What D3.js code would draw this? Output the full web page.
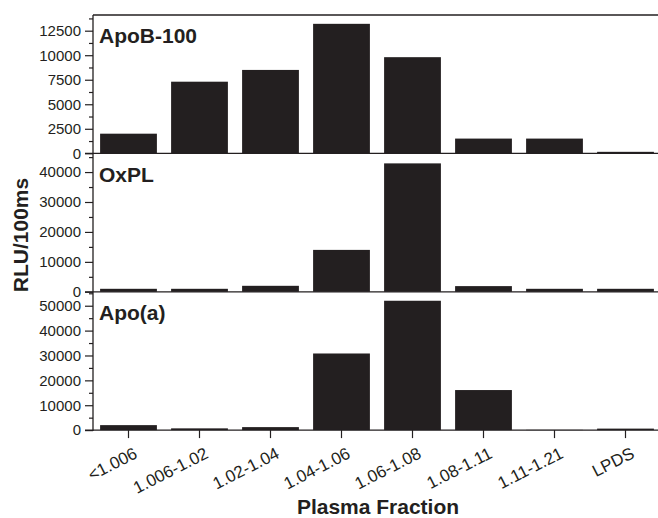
<!DOCTYPE html>
<html>
<head>
<meta charset="utf-8">
<script src="https://cdn.jsdelivr.net/npm/d3@7"></script>
<style>
  html, body { margin: 0; padding: 0; background: #fff; }
  svg { display: block; font-family: "Liberation Sans", Arial, sans-serif; }
</style>
</head>
<body>
<svg id="chart" width="658" height="518"></svg>
<script>
// ---- data ----
const categories = ["<1.006", "1.006-1.02", "1.02-1.04", "1.04-1.06", "1.06-1.08", "1.08-1.11", "1.11-1.21", "LPDS"];
const panelNames = ["ApoB-100", "OxPL", "Apo(a)"];
const apoB100 = [2000, 7300, 8500, 13200, 9800, 1500, 1500, 150];
const oxPL = [1000, 1000, 2000, 14000, 42900, 1900, 1000, 1000];
const apoA = [2000, 700, 1200, 30800, 52000, 16100, 100, 600];
const apoB100Ticks = [0, 2500, 5000, 7500, 10000, 12500];
const oxPLTicks = [0, 10000, 20000, 30000, 40000];
const apoATicks = [0, 10000, 20000, 30000, 40000, 50000];
const apoB100Minor = [1250, 3750, 6250, 8750, 11250, 13750];
const oxPLMinor = [5000, 15000, 25000, 35000, 45000];
const apoAMinor = [5000, 15000, 25000, 35000, 45000, 55000];
const yMax = [14100, 46200, 55600];
const xTitle = "Plasma Fraction";
const yTitle = "RLU/100ms";

// ---- layout ----
const ink = "#231f20";
const left = 93, right = 661;
const panelTop = [15, 153.5, 291.8];
const panelH = 138.3;

const svg = d3.select("#chart");

const x = d3.scaleBand().domain(categories).range([left, right]).paddingInner(0.2).paddingOuter(0.1);

const panels = [
  { name: panelNames[0], values: apoB100, ticks: apoB100Ticks, minor: apoB100Minor, max: yMax[0] },
  { name: panelNames[1], values: oxPL, ticks: oxPLTicks, minor: oxPLMinor, max: yMax[1] },
  { name: panelNames[2], values: apoA, ticks: apoATicks, minor: apoAMinor, max: yMax[2] }
];

panels.forEach((p, i) => {
  const top = panelTop[i];
  const y = d3.scaleLinear().domain([0, p.max]).range([top + panelH, top]);
  const g = svg.append("g");

  // bars
  g.selectAll("rect.bar").data(p.values).join("rect")
    .attr("class", "bar")
    .attr("x", (d, j) => x(categories[j]))
    .attr("width", x.bandwidth())
    .attr("y", d => y(d))
    .attr("height", d => y(0) - y(d))
    .attr("fill", ink);

  // minor ticks
  const minorAxis = d3.axisLeft(y).tickValues(p.minor.filter(v => v <= p.max)).tickSize(4).tickFormat("");
  g.append("g").attr("transform", `translate(${left},0)`).call(minorAxis)
    .call(s => s.select(".domain").remove())
    .call(s => s.selectAll("line").attr("stroke", ink).attr("stroke-width", 1.2));

  // major ticks
  const axis = d3.axisLeft(y).tickValues(p.ticks).tickSize(8).tickPadding(4).tickFormat(d3.format("d"));
  g.append("g").attr("transform", `translate(${left},0)`).call(axis)
    .call(s => s.select(".domain").remove())
    .call(s => s.selectAll("line").attr("stroke", ink).attr("stroke-width", 1.2))
    .call(s => s.selectAll("text").attr("fill", ink).attr("font-size", 15)
      .attr("font-family", "'Liberation Sans', Arial, sans-serif"));

  // zero line
  g.append("line").attr("x1", left - 8).attr("x2", right)
    .attr("y1", y(0)).attr("y2", y(0)).attr("stroke", ink).attr("stroke-width", 1.3);

  // panel label
  g.append("text").attr("x", left + 6).attr("y", top + 28)
    .attr("font-size", 21).attr("font-weight", "bold").attr("fill", ink)
    .text(p.name);
});

// frame: top line and left axis line
svg.append("line").attr("x1", left).attr("x2", right).attr("y1", panelTop[0]).attr("y2", panelTop[0])
  .attr("stroke", ink).attr("stroke-width", 1.3);
svg.append("line").attr("x1", left).attr("x2", left).attr("y1", panelTop[0]).attr("y2", panelTop[2] + panelH + 1)
  .attr("stroke", ink).attr("stroke-width", 1.3);

// bottom x axis
const bottom = panelTop[2] + panelH;
const xAxis = d3.axisBottom(x).tickSize(8).tickFormat("");
svg.append("g").attr("transform", `translate(0,${bottom})`).call(xAxis)
  .call(s => s.select(".domain").remove())
  .call(s => s.selectAll("line").attr("stroke", ink).attr("stroke-width", 1.2));

svg.append("g").selectAll("text").data(categories).join("text")
  .attr("transform", d => `translate(${x(d) + x.bandwidth() / 2 + 10},${bottom + 27}) rotate(-27)`)
  .attr("text-anchor", "end")
  .attr("font-size", 17)
  .attr("fill", ink)
  .text(d => d);

// axis titles
svg.append("text").attr("x", 378).attr("y", 514).attr("text-anchor", "middle")
  .attr("font-size", 21).attr("font-weight", "bold").attr("fill", ink).text(xTitle);

svg.append("text").attr("transform", "translate(28,235) rotate(-90)").attr("text-anchor", "middle")
  .attr("font-size", 21).attr("font-weight", "bold").attr("fill", ink).text(yTitle);
</script>
</body>
</html>
